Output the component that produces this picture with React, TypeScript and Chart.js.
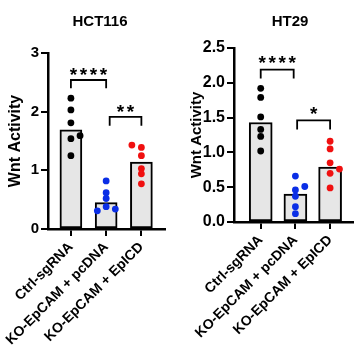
import React, { useEffect, useRef } from 'react';
import { Chart, registerables } from 'chart.js';

Chart.register(...registerables);

const FONT = '"Liberation Sans", Arial, Helvetica, sans-serif';

// ---- shared categories ----
const categories = ['Ctrl-sgRNA', 'KO-EpCAM + pcDNA', 'KO-EpCAM + EpICD'];
const dotColors = ['#000000', '#0a2ee6', '#f01010'];

// ---- HCT116 ----
const hctMeans = [1.69, 0.45, 1.14];
const hctCtrl = [2.23, 2.03, 1.81, 1.59, 1.54, 1.25];
const hctCtrlJitter = [0, 0, 0, 0.26, 0, 0];
const hctPc = [0.82, 0.62, 0.52, 0.38, 0.31, 0.34];
const hctPcJitter = [0, 0, 0, 0, -0.25, 0.26];
const hctEp = [1.43, 1.39, 1.25, 1.03, 0.94, 0.77];
const hctEpJitter = [-0.27, 0, 0, 0, 0, 0];
const hctYTicks = [0, 1, 2, 3];
const hctYTickLabels = ['0', '1', '2', '3'];
const hctSigLabels = ['****', '**'];
const hctSigFrom = [0, 1.1];
const hctSigTo = [1, 2];
const hctSigY = [2.54, 1.91];
const hctSigDrop = [0.14, 0.15];

// ---- HT29 ----
const htMeans = [1.43, 0.40, 0.79];
const htCtrl = [1.92, 1.79, 1.51, 1.33, 1.23, 1.02];
const htCtrlJitter = [0, 0, 0, 0, 0, 0];
const htPc = [0.66, 0.51, 0.46, 0.37, 0.22, 0.12];
const htPcJitter = [0, 0.27, 0, 0, 0, 0];
const htEp = [1.16, 1.05, 0.85, 0.76, 0.70, 0.49];
const htEpJitter = [0, 0, 0, 0.27, 0, 0];
const htYTicks = [0, 0.5, 1.0, 1.5, 2.0, 2.5];
const htYTickLabels = ['0.0', '0.5', '1.0', '1.5', '2.0', '2.5'];
const htSigLabels = ['****', '*'];
const htSigFrom = [0, 1.05];
const htSigTo = [0.95, 2];
const htSigY = [2.19, 1.46];
const htSigDrop = [0.13, 0.13];

type Panel = {
  title: string;
  means: number[];
  groups: number[][];
  jitters: number[][];
  yTicks: number[];
  yTickLabels: string[];
  sigLabels: string[];
  sigFrom: number[];
  sigTo: number[];
  sigY: number[];
  sigDrop: number[];
  width: number;
  height: number;
  yWidth: number;
  xHeight: number;
  padTop: number;
  padRight: number;
  xMin: number;
  xMax: number;
  barThickness: number;
  titleX: number;
  titleY: number;
  titleSize: number;
  tickSize: number;
  yTitleSize: number;
  yTitlePad: number;
  starGap: number;
};

const panels: Panel[] = [
  {
    title: 'HCT116',
    means: hctMeans,
    groups: [hctCtrl, hctPc, hctEp],
    jitters: [hctCtrlJitter, hctPcJitter, hctEpJitter],
    yTicks: hctYTicks,
    yTickLabels: hctYTickLabels,
    sigLabels: hctSigLabels,
    sigFrom: hctSigFrom,
    sigTo: hctSigTo,
    sigY: hctSigY,
    sigDrop: hctSigDrop,
    width: 180,
    height: 358,
    yWidth: 48,
    xHeight: 129,
    padTop: 53,
    padRight: 15,
    xMin: -0.65,
    xMax: 2.67,
    barThickness: 22,
    titleX: 100,
    titleY: 22,
    titleSize: 15,
    tickSize: 15,
    yTitleSize: 16,
    yTitlePad: 6.4,
    starGap: -1,
  },
  {
    title: 'HT29',
    means: htMeans,
    groups: [htCtrl, htPc, htEp],
    jitters: [htCtrlJitter, htPcJitter, htEpJitter],
    yTicks: htYTicks,
    yTickLabels: htYTickLabels,
    sigLabels: htSigLabels,
    sigFrom: htSigFrom,
    sigTo: htSigTo,
    sigY: htSigY,
    sigDrop: htSigDrop,
    width: 181,
    height: 358,
    yWidth: 54,
    xHeight: 136,
    padTop: 48,
    padRight: 8,
    xMin: -0.77,
    xMax: 2.66,
    barThickness: 23,
    titleX: 110,
    titleY: 22,
    titleSize: 15,
    tickSize: 16,
    yTitleSize: 15,
    yTitlePad: 7.7,
    starGap: 0.5,
  },
];

function makeConfig(p: Panel): any {
  const annotate = {
    id: 'annotate',
    afterDatasetsDraw(chart: any) {
      const { ctx } = chart;
      const x = chart.scales.x;
      const y = chart.scales.y;
      ctx.save();
      ctx.strokeStyle = '#000';
      ctx.lineWidth = 1.8;
      ctx.fillStyle = '#000';
      ctx.font = `bold 19px ${FONT}`;
      ctx.textAlign = 'center';
      ctx.textBaseline = 'alphabetic';
      p.sigLabels.forEach((lab, i) => {
        const x0 = x.getPixelForValue(p.sigFrom[i]);
        const x1 = x.getPixelForValue(p.sigTo[i]);
        const yt = y.getPixelForValue(p.sigY[i]);
        const yb = y.getPixelForValue(p.sigY[i] - p.sigDrop[i]);
        ctx.beginPath();
        ctx.moveTo(x0, yb);
        ctx.lineTo(x0, yt);
        ctx.lineTo(x1, yt);
        ctx.lineTo(x1, yb);
        ctx.stroke();
        const cx = (x0 + x1) / 2;
        const n = lab.length;
        const step = 10;
        for (let k = 0; k < n; k++) {
          ctx.fillText('*', cx + (k - (n - 1) / 2) * step, yt - p.starGap);
        }
      });
      ctx.restore();
    },
    afterDraw(chart: any) {
      const { ctx } = chart;
      ctx.save();
      ctx.fillStyle = '#000';
      ctx.font = `bold ${p.titleSize}px ${FONT}`;
      ctx.textAlign = 'center';
      ctx.textBaseline = 'middle';
      ctx.fillText(p.title, p.titleX, p.titleY);
      ctx.restore();
    },
  };

  const datasets: any[] = [
    {
      type: 'bar',
      data: p.means.map((m, i) => ({ x: i, y: m })),
      backgroundColor: '#e6e6e6',
      borderColor: '#000',
      borderWidth: 2,
      borderSkipped: false,
      barThickness: p.barThickness,
      order: 2,
    },
  ];
  p.groups.forEach((g, gi) => {
    datasets.push({
      type: 'scatter',
      data: g.map((v, k) => ({ x: gi + p.jitters[gi][k], y: v })),
      pointRadius: 3.4,
      pointBackgroundColor: dotColors[gi],
      pointBorderWidth: 0,
      borderColor: dotColors[gi],
      order: 1,
    });
  });

  const tickFont = { family: FONT, size: p.tickSize, weight: 'bold' as const };

  return {
    type: 'bar',
    data: { datasets },
    options: {
      responsive: false,
      animation: false,
      events: [],
      layout: { padding: { top: p.padTop, right: p.padRight, left: 0, bottom: 0 } },
      plugins: {
        legend: { display: false },
        tooltip: { enabled: false },
        title: { display: false },
      },
      scales: {
        x: {
          type: 'linear',
          offset: false,
          min: p.xMin,
          max: p.xMax,
          afterBuildTicks: (s: any) => {
            s.ticks = categories.map((_, i) => ({ value: i }));
          },
          afterFit: (s: any) => {
            s.height = p.xHeight;
            s.paddingLeft = 0;
            s.paddingRight = 0;
          },
          ticks: {
            autoSkip: false,
            minRotation: 45,
            maxRotation: 45,
            padding: 3,
            color: '#000',
            font: { family: FONT, size: 14, weight: 'bold' },
            callback: (v: number) => categories[Math.round(v)] ?? '',
          },
          grid: {
            offset: false,
            drawOnChartArea: false,
            drawTicks: true,
            tickLength: 7,
            color: '#000',
            lineWidth: 2,
          },
          border: { display: true, color: '#000', width: 2.5 },
        },
        y: {
          type: 'linear',
          min: 0,
          max: p.yTicks[p.yTicks.length - 1],
          afterBuildTicks: (s: any) => {
            s.ticks = p.yTicks.map((v) => ({ value: v }));
          },
          afterFit: (s: any) => {
            s.width = p.yWidth;
            s.paddingTop = 0;
            s.paddingBottom = 0;
          },
          ticks: {
            padding: 2,
            color: '#000',
            font: tickFont,
            callback: (v: number) => {
              const idx = p.yTicks.findIndex((t) => Math.abs(t - v) < 1e-9);
              return idx >= 0 ? p.yTickLabels[idx] : '';
            },
          },
          title: {
            display: true,
            text: 'Wnt Activity',
            color: '#000',
            font: { family: FONT, size: p.yTitleSize, weight: 'bold' },
            padding: { top: p.yTitlePad, bottom: 0 },
          },
          grid: {
            drawOnChartArea: false,
            drawTicks: true,
            tickLength: 7,
            color: '#000',
            lineWidth: 2,
          },
          border: { display: true, color: '#000', width: 2.5 },
        },
      },
    },
    plugins: [annotate],
  };
}

function PanelChart({ p, left }: { p: Panel; left: number }) {
  const ref = useRef<HTMLCanvasElement | null>(null);
  useEffect(() => {
    if (!ref.current) return;
    const chart = new Chart(ref.current, makeConfig(p));
    return () => chart.destroy();
  }, [p]);
  return (
    <canvas
      ref={ref}
      width={p.width}
      height={p.height}
      style={{ position: 'absolute', left, top: 0, width: p.width, height: p.height }}
    />
  );
}

export default function App() {
  return (
    <div
      style={{
        position: 'absolute',
        left: 0,
        top: 0,
        width: 361,
        height: 358,
        background: '#ffffff',
        overflow: 'hidden',
      }}
    >
      <PanelChart p={panels[0]} left={0} />
      <PanelChart p={panels[1]} left={180} />
    </div>
  );
}
